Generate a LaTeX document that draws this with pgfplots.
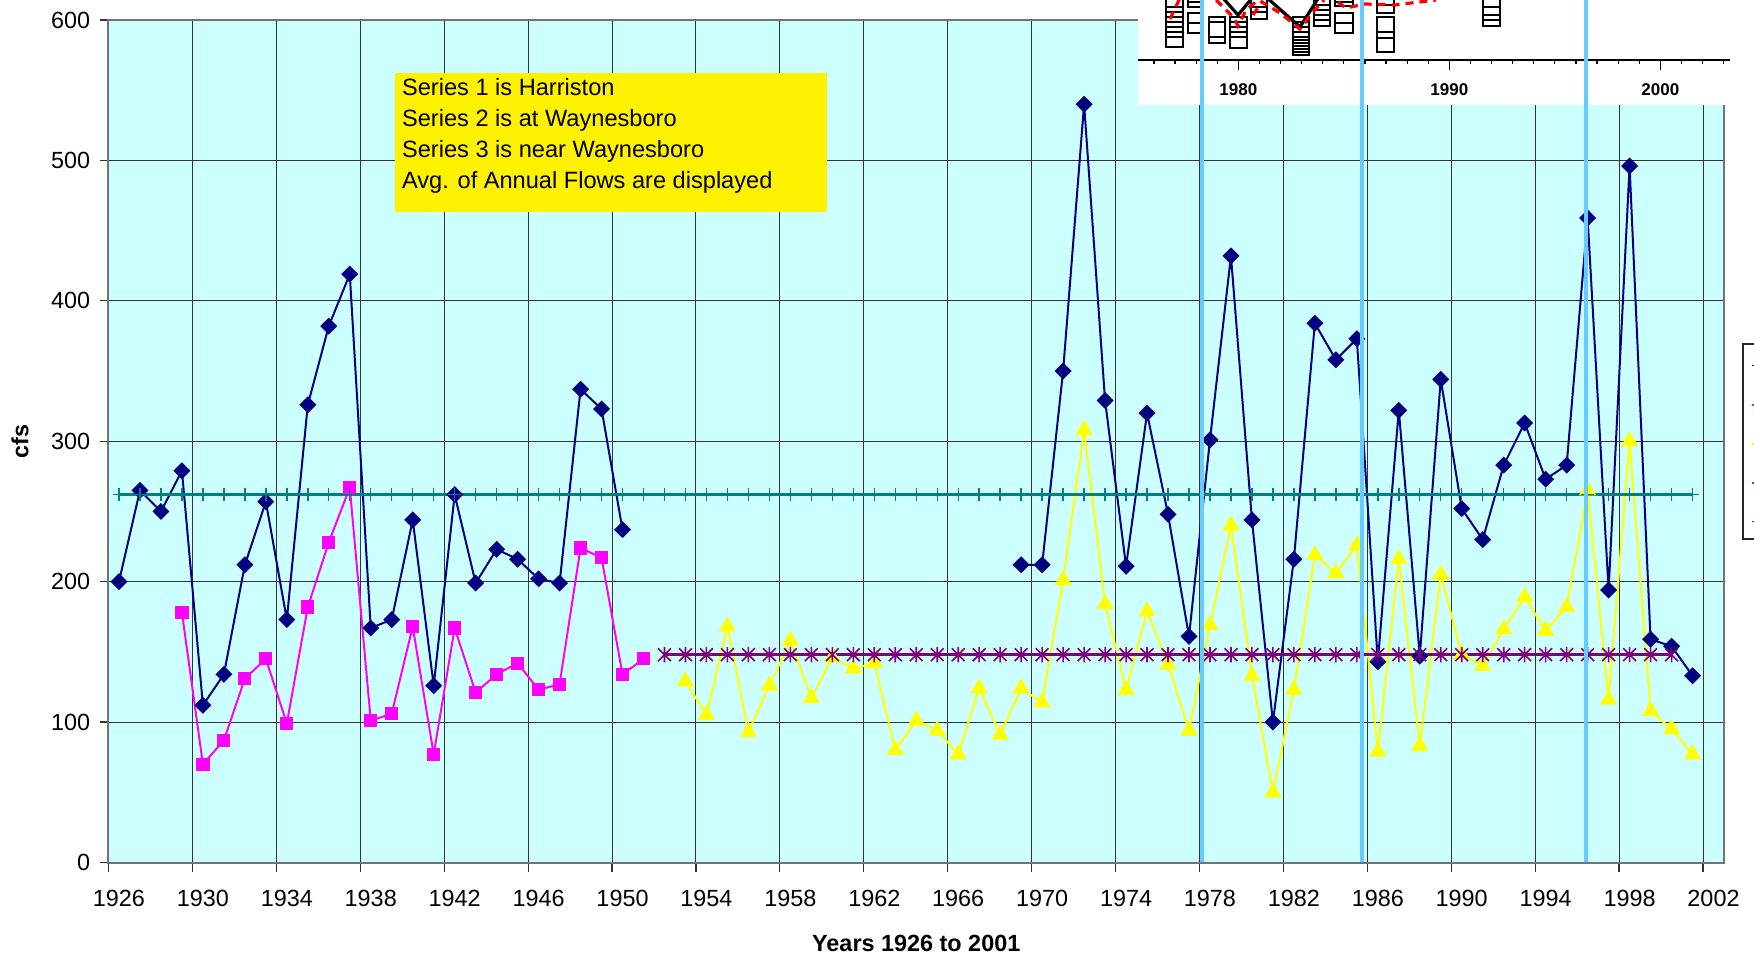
\documentclass[border=0pt]{standalone}
\usepackage{fontspec}
\setmainfont{Liberation Sans}
\usepackage{pgfplots}
\pgfplotsset{compat=1.18}
\definecolor{bgcyan}{HTML}{CCFFFF}
\definecolor{snavy}{HTML}{000080}
\definecolor{smag}{HTML}{FF00FF}
\definecolor{syel}{HTML}{FFFF00}
\definecolor{steal}{HTML}{008080}
\definecolor{spurp}{HTML}{800080}
\definecolor{lblue}{HTML}{66CCFF}

\pgfdeclareplotmark{xstar}{%
  \pgfpathmoveto{\pgfqpoint{-\pgfplotmarksize}{-\pgfplotmarksize}}%
  \pgfpathlineto{\pgfqpoint{\pgfplotmarksize}{\pgfplotmarksize}}%
  \pgfpathmoveto{\pgfqpoint{-\pgfplotmarksize}{\pgfplotmarksize}}%
  \pgfpathlineto{\pgfqpoint{\pgfplotmarksize}{-\pgfplotmarksize}}%
  \pgfpathmoveto{\pgfqpoint{0pt}{-1.2\pgfplotmarksize}}%
  \pgfpathlineto{\pgfqpoint{0pt}{1.2\pgfplotmarksize}}%
  \pgfusepathqstroke}

\newcommand{\ovbox}[5]{\draw[black, line width=0.6pt] (#1,#3) rectangle (#2,#4);
  \foreach \yy in {#5} {\draw[black, line width=0.6pt] (#1,\yy) -- (#2,\yy);}}

\begin{document}
\begin{tikzpicture}
\begin{axis}[
  scale only axis, width=807.75pt, height=421.25pt,
  xmin=1925.5, xmax=2002.5, ymin=0, ymax=600,
  axis background/.style={fill=bgcyan},
  xtick={1925.5,1929.5,1933.5,1937.5,1941.5,1945.5,1949.5,1953.5,1957.5,1961.5,1965.5,1969.5,1973.5,1977.5,1981.5,1985.5,1989.5,1993.5,1997.5,2001.5},
  xticklabels={},
  extra x ticks={1926,1930,1934,1938,1942,1946,1950,1954,1958,1962,1966,1970,1974,1978,1982,1986,1990,1994,1998,2002},
  extra x tick labels={1926,1930,1934,1938,1942,1946,1950,1954,1958,1962,1966,1970,1974,1978,1982,1986,1990,1994,1998,2002},
  extra x tick style={grid=none, tick style={draw=none}},
  ytick={0,100,200,300,400,500,600},
  yticklabels={0,100,200,300,400,500,600},
  xmajorgrids, ymajorgrids,
  major grid style={black!80, line width=0.5pt},
  tick align=outside, major tick length=4.5pt,
  tick style={black!80, line width=0.6pt},
  xtick pos=bottom, ytick pos=left,
  axis line style={black!55, line width=1pt},
  ticklabel style={font=\fontsize{11.7}{14}\selectfont},
  x tick label style={yshift=-6pt},
  y tick label style={xshift=-1.1pt},
  xlabel={Years 1926 to 2001}, ylabel={cfs},
  label style={font=\fontsize{11.7}{14}\selectfont\bfseries},
  xlabel style={at={(axis description cs:0.5,-0.0955)}, anchor=center},
  ylabel style={at={(axis description cs:-0.0548,0.5)}, anchor=center},
  unbounded coords=jump,
]
% Series 1: Harriston
\addplot[snavy, line width=1pt, mark=square*, mark size=2.5pt, mark options={rotate=45, fill=snavy, solid}] coordinates {
(1926,200)(1927,265)(1928,250)(1929,279)(1930,112)(1931,134)(1932,212)(1933,257)(1934,173)(1935,326)
(1936,382)(1937,419)(1938,167)(1939,173)(1940,244)(1941,126)(1942,262)(1943,199)(1944,223)(1945,216)
(1946,202)(1947,199)(1948,337)(1949,323)(1950,237)(1951,nan)
(1969,212)(1970,212)(1971,350)(1972,540)(1973,329)(1974,211)(1975,320)(1976,248)(1977,161)(1978,301)
(1979,432)(1980,244)(1981,100)(1982,216)(1983,384)(1984,358)(1985,373)(1986,143)(1987,322)(1988,147)
(1989,344)(1990,252)(1991,230)(1992,283)(1993,313)(1994,273)(1995,283)(1996,459)(1997,194)(1998,496)
(1999,159)(2000,154)(2001,133)};
% Series 2: at Waynesboro
\addplot[smag, line width=1pt, mark=square*, mark size=2.8pt, mark options={fill=smag, solid}] coordinates {
(1929,178)(1930,70)(1931,87)(1932,131)(1933,145)(1934,99)(1935,182)(1936,228)(1937,267)(1938,101)
(1939,106)(1940,168)(1941,77)(1942,167)(1943,121)(1944,134)(1945,142)(1946,123)(1947,127)(1948,224)
(1949,217)(1950,134)(1951,145)};
% Series 3: near Waynesboro
\addplot[syel, line width=1pt, mark=triangle*, mark size=4pt, mark options={fill=syel, solid}] coordinates {
(1953,129)(1954,105)(1955,168)(1956,93)(1957,126)(1958,158)(1959,117)(1960,146)(1961,138)(1962,142)
(1963,80)(1964,101)(1965,94)(1966,77)(1967,124)(1968,91)(1969,124)(1970,114)(1971,201)(1972,308)
(1973,184)(1974,123)(1975,179)(1976,141)(1977,94)(1978,169)(1979,240)(1980,133)(1981,50)(1982,123)
(1983,219)(1984,206)(1985,226)(1986,79)(1987,216)(1988,83)(1989,205)(1990,148)(1991,140)(1992,166)
(1993,189)(1994,165)(1995,182)(1996,265)(1997,116)(1998,300)(1999,108)(2000,95)(2001,77)};
% Series 4: average line
\addplot[steal, line width=1.3pt, mark=+, mark size=3.1pt, mark options={line width=0.7pt, solid}] coordinates {
(1926,262)(1927,262)(1928,262)(1929,262)(1930,262)(1931,262)(1932,262)(1933,262)(1934,262)(1935,262)
(1936,262)(1937,262)(1938,262)(1939,262)(1940,262)(1941,262)(1942,262)(1943,262)(1944,262)(1945,262)
(1946,262)(1947,262)(1948,262)(1949,262)(1950,262)(1951,262)(1952,262)(1953,262)(1954,262)(1955,262)
(1956,262)(1957,262)(1958,262)(1959,262)(1960,262)(1961,262)(1962,262)(1963,262)(1964,262)(1965,262)
(1966,262)(1967,262)(1968,262)(1969,262)(1970,262)(1971,262)(1972,262)(1973,262)(1974,262)(1975,262)
(1976,262)(1977,262)(1978,262)(1979,262)(1980,262)(1981,262)(1982,262)(1983,262)(1984,262)(1985,262)
(1986,262)(1987,262)(1988,262)(1989,262)(1990,262)(1991,262)(1992,262)(1993,262)(1994,262)(1995,262)
(1996,262)(1997,262)(1998,262)(1999,262)(2000,262)(2001,262)};
% Series 5: average line
\addplot[spurp, line width=1.3pt, mark=xstar, mark size=3.2pt, mark options={line width=0.8pt, solid}] coordinates {
(1952,148)(1953,148)(1954,148)(1955,148)(1956,148)(1957,148)(1958,148)(1959,148)(1960,148)(1961,148)
(1962,148)(1963,148)(1964,148)(1965,148)(1966,148)(1967,148)(1968,148)(1969,148)(1970,148)(1971,148)
(1972,148)(1973,148)(1974,148)(1975,148)(1976,148)(1977,148)(1978,148)(1979,148)(1980,148)(1981,148)
(1982,148)(1983,148)(1984,148)(1985,148)(1986,148)(1987,148)(1988,148)(1989,148)(1990,148)(1991,148)
(1992,148)(1993,148)(1994,148)(1995,148)(1996,148)(1997,148)(1998,148)(1999,148)(2000,148)};
\end{axis}

\begin{scope}[shift={(-54.25pt,431.25pt)}, x=0.5pt, y=-0.5pt]
  % text box
  \fill[yellow] (395,73.3) rectangle (826.7,211.7);
  \begin{scope}[every node/.style={anchor=base west, inner sep=0pt, font=\fontsize{11.8}{14}\selectfont}]
    \node at (401.7,96) {Series 1 is Harriston};
    \node at (401.7,126.7) {Series 2 is at Waynesboro};
    \node at (401.7,157.3) {Series 3 is near Waynesboro};
    \node at (401.7,188.3) {Avg. of Annual Flows are displayed};
  \end{scope}
  % pasted picture fragment
  \fill[white] (1138,0) rectangle (1730,105);
  \begin{scope}
    \clip (1138,0) rectangle (1730,105);
    \ovbox{1166}{1183}{-2}{47}{7,12,17,22,27,32,37}
    \ovbox{1188}{1201}{13}{33}{23}
    \ovbox{1188}{1201}{-2}{7}{2}
    \ovbox{1209}{1225}{17}{43}{22,37}
    \ovbox{1230}{1247}{17}{48}{22,27,32,37}
    \ovbox{1251}{1267}{-2}{19}{7,12}
    \ovbox{1293}{1309}{17}{55}{22,27,32,37,40,43,46,49,52}
    \ovbox{1314}{1330}{-2}{26}{5,10,15,20}
    \ovbox{1335}{1353}{-2}{6}{2}
    \ovbox{1335}{1353}{13}{33}{23}
    \ovbox{1377}{1394}{-2}{13}{5}
    \ovbox{1377}{1394}{17}{52}{32,38}
    \ovbox{1483}{1500}{-2}{26}{7,15,20}
    \draw[black, line width=1.6pt] (1222,-3) -- (1238,15) -- (1253,-3);
    \draw[black, line width=1.6pt] (1266,-3) -- (1300,27) -- (1319,-3);
    \draw[red, line width=1.6pt, dash pattern=on 4pt off 3pt] (1170,19) -- (1180,-2);
    \draw[red, line width=1.6pt, dash pattern=on 4pt off 3pt] (1216,0) -- (1234,18) -- (1238,26) -- (1246,10) -- (1258,0);
    \draw[red, line width=1.6pt, dash pattern=on 4pt off 3pt] (1253,15) -- (1262,2) -- (1280,13) -- (1300,29) -- (1312,13) -- (1324,0);
    \draw[red, line width=1.6pt, dash pattern=on 4pt off 3pt] (1338,2) -- (1346,8) -- (1365,4) -- (1395,5) -- (1436,0);
  \end{scope}
  \draw[black, line width=0.9pt] (1138,60) -- (1730,60);
  \foreach \k in {-4,...,23} {\draw[black, line width=0.6pt] ({1238.3+21.1*\k},60) -- ++(0,4);}
  \foreach \k in {0,10,20} {\draw[black, line width=0.7pt] ({1238.3+21.1*\k},60) -- ++(0,10);}
  \begin{scope}[every node/.style={anchor=center, inner sep=0pt, font=\fontsize{8.5}{9}\selectfont\bfseries}]
    \node at (1238.3,90) {1980};
    \node at (1449.3,90) {1990};
    \node at (1660.3,90) {2000};
  \end{scope}
  % vertical markers
  \draw[lblue, line width=1.8pt] (1201.7,0) -- (1201.7,862.5);
  \draw[lblue, line width=1.8pt] (1362,0) -- (1362,862.5);
  \draw[lblue, line width=1.8pt] (1586,0) -- (1586,862.5);
  % legend fragment at the right edge
  \fill[white] (1743,344) rectangle (1790,539);
  \draw[black!85, line width=0.8pt] (1743,344) rectangle (1790,539);
  \draw[snavy, line width=0.6pt] (1752,365.7) -- (1790,365.7);
  \draw[smag, line width=0.6pt] (1752,405) -- (1790,405);
  \draw[syel, line width=0.6pt] (1752,444) -- (1790,444);
  \draw[steal, line width=0.6pt] (1752,483) -- (1790,483);
  \draw[spurp, line width=0.6pt] (1752,521.7) -- (1790,521.7);
\end{scope}
\pgfresetboundingbox
\useasboundingbox (-54.25pt,-47.25pt) rectangle (822.75pt,431.25pt);
\end{tikzpicture}
\end{document}
